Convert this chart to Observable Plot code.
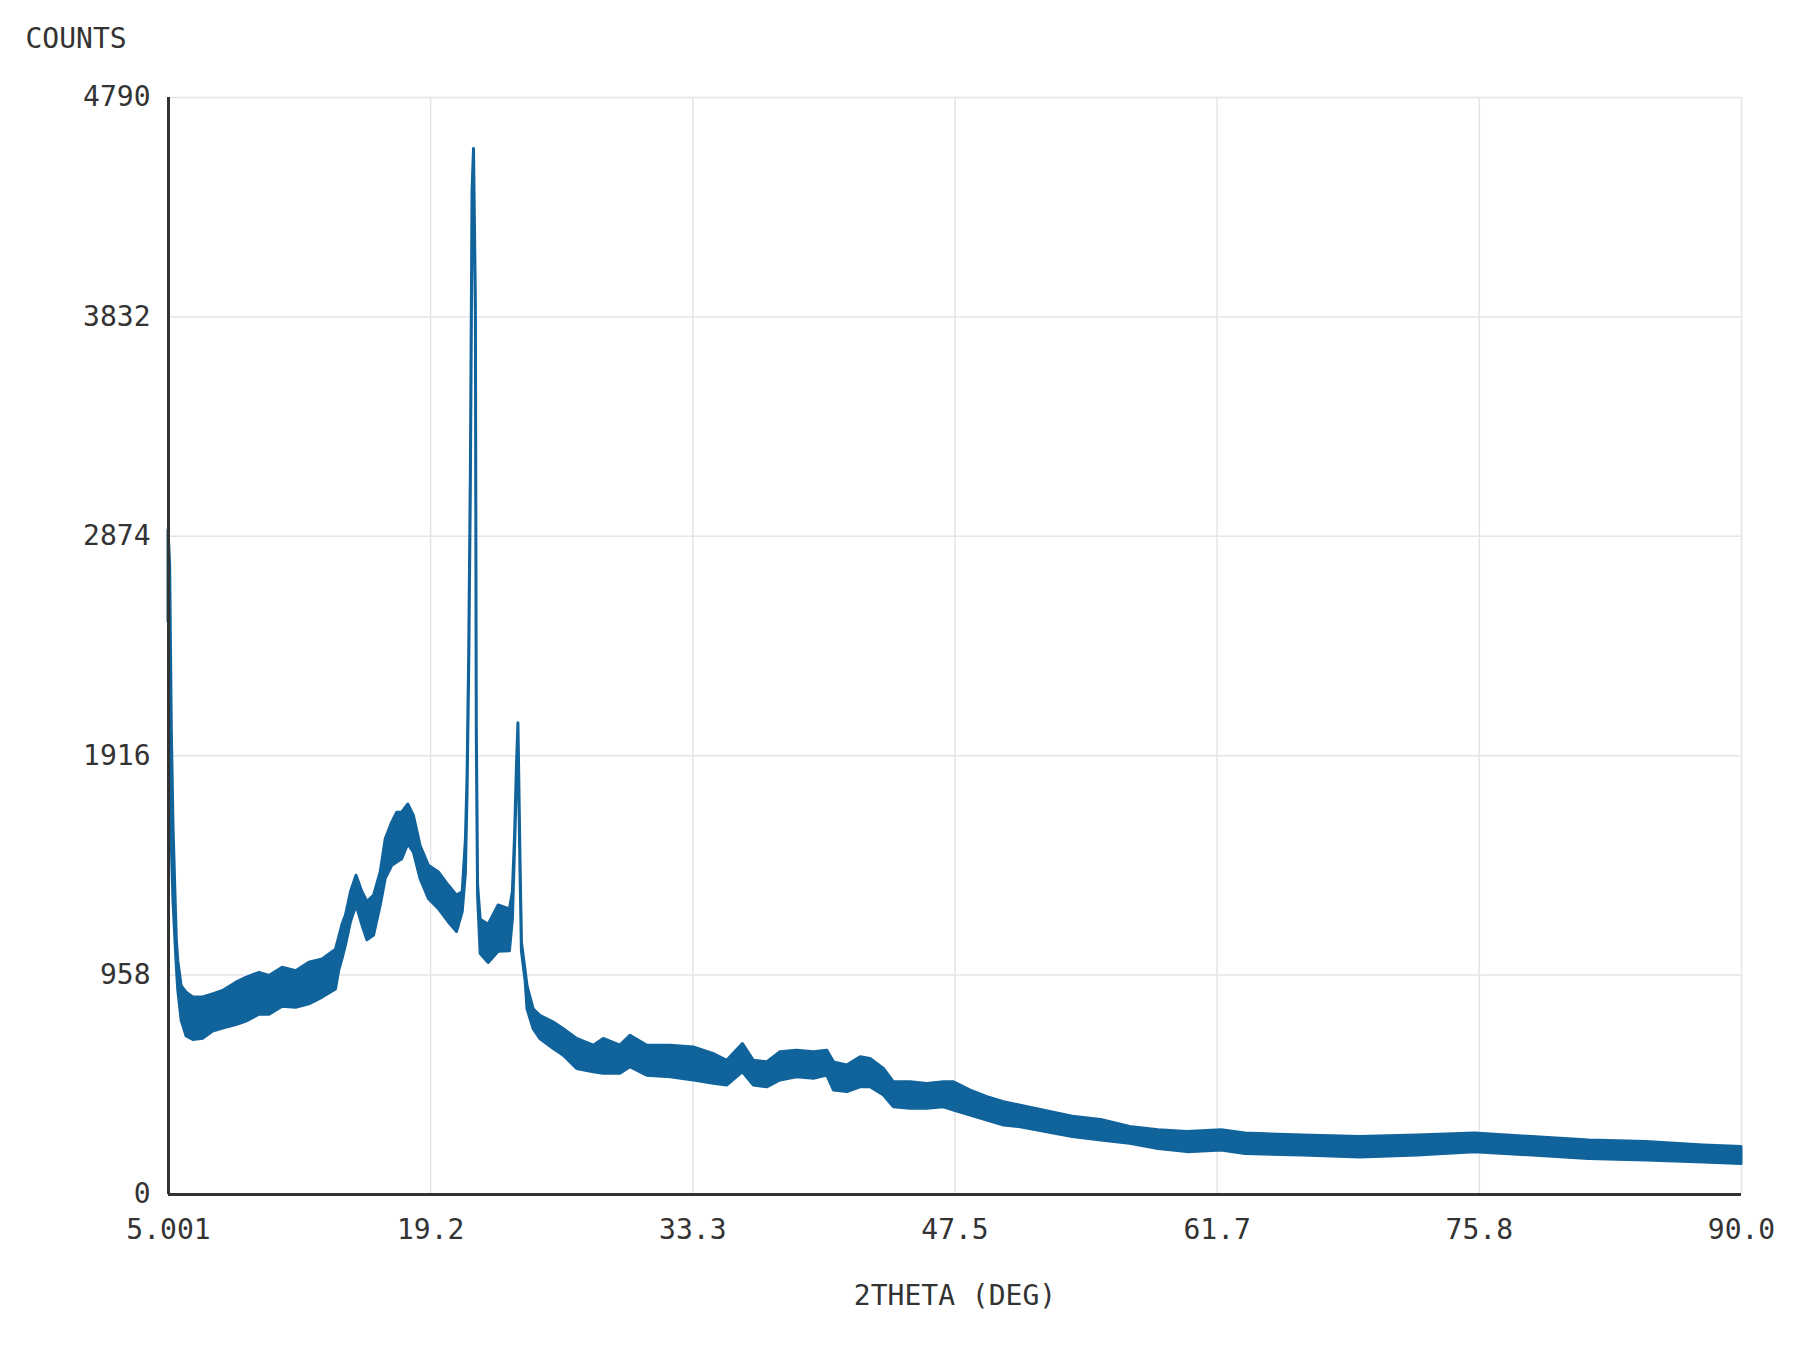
<!DOCTYPE html>
<html>
<head>
<meta charset="utf-8">
<script src="https://cdn.jsdelivr.net/npm/d3@7"></script>
<script src="https://cdn.jsdelivr.net/npm/@observablehq/plot@0.6"></script>
<style>
  body { margin: 0; background: #fff; }
</style>
</head>
<body>
<div id="chart"></div>
<script>
// 2theta positions (deg) and the lower / upper edges of the noisy count band
const twoTheta = [
  5.001, 5.09, 5.18, 5.27, 5.45, 5.53, 5.71, 5.98, 6.34, 6.87, 7.41, 7.95, 8.67, 9.21, 9.92, 10.46,
  11.17, 11.90, 12.61, 13.33, 14.05, 14.22, 14.41, 14.59, 14.86, 15.16, 15.48, 15.75, 16.11, 16.47,
  16.74, 17.09, 17.36, 17.63, 17.96, 18.26, 18.62, 19.07, 19.60, 20.14, 20.59,
  20.90, 21.07, 21.16, 21.25, 21.34, 21.43, 21.51, 21.61, 21.66, 21.73, 21.87, 22.30, 22.84, 23.45,
  23.61, 23.73, 23.83, 23.91, 24.02, 24.10, 24.30, 24.40, 24.73, 25.09, 25.82, 26.36, 27.08, 27.98,
  28.52, 29.42, 29.96, 30.86, 32.13, 33.39, 34.47, 35.19, 36.04, 36.63, 37.35, 38.07, 38.97, 39.88,
  40.60, 40.96, 41.68, 42.40, 42.94, 43.66, 44.20, 45.10, 46.00, 46.90, 47.45, 48.35, 49.25, 50.15,
  51.05, 53.86, 55.40, 56.96, 58.50, 60.06, 61.90, 63.20, 66.30, 69.40, 72.50, 75.60, 78.70, 81.76,
  84.86, 87.96, 90.00
];
const countsLow = [
  2500, 2580, 1530, 1280, 995, 890, 760, 690, 675, 680, 712, 725, 740, 755, 785, 785,
  820, 815, 830, 860, 895, 975, 1030, 1088, 1189, 1262, 1175, 1110, 1131, 1262,
  1378, 1435, 1450, 1464, 1530, 1493, 1378, 1291, 1247, 1189, 1146,
  1233, 1400, 1750, 2300, 3100, 4300, 4500, 3850, 2000, 1300, 1050, 1011, 1060, 1062,
  1200, 1520, 1820, 2000, 1420, 1060, 930, 809, 722, 679, 635, 606, 548, 534,
  527, 527, 556, 519, 512, 498, 483, 476, 534, 476, 468, 498, 512, 505,
  519, 454, 447, 468, 468, 432, 381, 374, 374, 381, 367, 345, 323, 301,
  294, 251, 236, 222, 199, 185, 192, 177, 170, 162, 170, 185, 170, 155,
  148, 140, 133
];
const countsHigh = [
  2900, 2750, 2030, 1610, 1110, 1020, 910, 881, 860, 860, 874, 889, 925, 946, 968, 954,
  990, 975, 1012, 1026, 1069, 1120, 1180, 1218, 1320, 1392, 1320, 1277, 1305, 1407,
  1551, 1624, 1667, 1667, 1703, 1653, 1522, 1435, 1407, 1349, 1305,
  1320, 1545, 1820, 2360, 3160, 4380, 4565, 3900, 2050, 1350, 1200, 1178, 1262, 1245,
  1320, 1570, 1870, 2058, 1470, 1100, 975, 910, 809, 780, 751, 722, 679, 650,
  679, 650, 693, 650, 650, 642, 613, 584, 657, 584, 577, 621, 628, 621,
  628, 577, 563, 599, 592, 548, 490, 490, 483, 490, 490, 454, 425, 403,
  388, 340, 325, 295, 281, 273, 281, 266, 258, 251, 258, 266, 251, 236,
  229, 214, 207
];

// axis ticks and labels
const xTicks = [5.001, 19.1675, 33.334, 47.5, 61.6665, 75.833, 90];
const xTickLabels = ["5.001", "19.2", "33.3", "47.5", "61.7", "75.8", "90.0"];
const yTicks = [0, 958, 1916, 2874, 3832, 4790];
const xLabel = "2THETA (DEG)";
const yLabel = "COUNTS";

const data = twoTheta.map((x, i) => ({x, lo: countsLow[i], hi: countsHigh[i]}));
const xLabelMap = new Map(xTicks.map((t, i) => [t, xTickLabels[i]]));

const font = "'DejaVu Sans Mono', monospace";
const ink = "#333333";
const blue = "#11639b";
const grid = "#e4e4ea";

const chart = Plot.plot({
  width: 1800,
  height: 1350,
  marginLeft: 168,
  marginRight: 59,
  marginTop: 97,
  marginBottom: 156,
  style: {fontFamily: font, fontSize: "28px", color: ink, background: "#fff"},
  x: {domain: [5.001, 90]},
  y: {domain: [0, 4790]},
  marks: [
    Plot.gridX(xTicks, {stroke: grid, strokeOpacity: 1, strokeWidth: 1.5}),
    Plot.gridY(yTicks, {stroke: grid, strokeOpacity: 1, strokeWidth: 1.5}),
    Plot.areaY(data, {x: "x", y1: "lo", y2: "hi", fill: blue, stroke: blue, strokeWidth: 3, strokeLinejoin: "round"}),
    Plot.ruleX([5.001], {stroke: ink, strokeWidth: 3}),
    Plot.ruleY([0], {stroke: ink, strokeWidth: 3}),
    Plot.axisX(xTicks, {tickSize: 0, tickPadding: 25, tickFormat: d => xLabelMap.get(d), label: null, fontSize: 28, fill: ink}),
    Plot.axisY(yTicks, {tickSize: 0, tickPadding: 18, tickFormat: d => String(d), label: null, fontSize: 28, fill: ink}),
    Plot.text([xLabel], {frameAnchor: "bottom", dy: 110, fontSize: 28, fill: ink, fontFamily: font}),
    Plot.text([yLabel], {frameAnchor: "top-left", dx: -143, dy: -69, textAnchor: "start", fontSize: 28, fill: ink, fontFamily: font})
  ]
});
document.getElementById("chart").appendChild(chart);
</script>
</body>
</html>
